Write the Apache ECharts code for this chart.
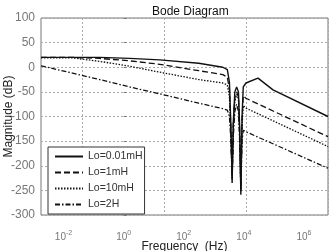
<!DOCTYPE html>
<html>
<head>
<meta charset="utf-8">
<script src="https://cdn.jsdelivr.net/npm/echarts@6/dist/echarts.min.js"></script>
<style>
  html, body { margin: 0; padding: 0; background: #fff; }
  #main { width: 330px; height: 251px; }
</style>
</head>
<body>
<div id="main"></div>
<script>
// x values are log10(frequency in Hz)
var seriesNames = ['Lo=0.01mH', 'Lo=1mH', 'Lo=10mH', 'Lo=2H'];

var logFreqA = [-2.75, -0.8, 0.2, 1.2, 2.5, 3.3, 3.45, 3.52, 3.57, 3.61, 3.65, 3.7, 3.76, 3.82, 3.86, 3.9, 3.94, 3.98, 4.07, 4.47, 4.97, 6.8];
var magA     = [20, 20, 18, 15, 8, 0, -5, -30, -120, -235, -110, -50, -40, -50, -120, -259, -100, -40, -32, -22, -46, -100];

var logFreqB = [-2.75, -1.7, -0.8, 0.2, 1.2, 2.5, 3.3, 3.45, 3.52, 3.57, 3.61, 3.65, 3.7, 3.76, 3.82, 3.86, 3.9, 3.94, 3.98, 4.07, 6.8];
var magB     = [20, 20, 18, 13, 6, -7, -15, -20, -45, -130, -228, -115, -60, -50, -60, -130, -252, -110, -58, -63, -141];
var magC     = [19, 19, 12, 2, -10, -25, -32, -36, -60, -140, -222, -120, -70, -55, -65, -140, -248, -120, -78, -83, -161];
var magD     = [3, -12, -25, -40, -54, -73, -84, -87, -100, -150, -225, -140, -90, -75, -90, -150, -245, -150, -128, -131, -205];

var xTicks = [-2, 0, 2, 4, 6];

function zip(xs, ys) {
    return xs.map(function (x, i) { return [x, ys[i]]; });
}

var lineData = [zip(logFreqA, magA), zip(logFreqB, magB), zip(logFreqB, magC), zip(logFreqB, magD)];
var dashes = ['solid', [6, 3], [1.5, 1.5], [5, 2, 1.5, 2]];
var widths = [1.4, 1.3, 1.3, 1.3];

var font = 'Liberation Sans, Arial, sans-serif';

var myChart = echarts.init(document.getElementById('main'));

var option = {
    animation: false,
    backgroundColor: '#fff',
    textStyle: { fontFamily: font },
    title: {
        text: 'Bode Diagram',
        left: 147,
        top: 1,
        textStyle: { fontSize: 12, fontWeight: 'normal', color: '#111', fontFamily: font }
    },
    grid: {
        left: 41, top: 18, right: 2, bottom: 36,
        containLabel: false,
        outerBoundsMode: 'none',
        show: true,
        borderColor: '#777',
        borderWidth: 1,
        backgroundColor: '#fff'
    },
    legend: {
        orient: 'vertical',
        left: 48,
        top: 147,
        data: seriesNames,
        backgroundColor: '#fff',
        borderColor: '#333',
        borderWidth: 1,
        borderRadius: 0,
        padding: [4, 2, 4, 6],
        itemWidth: 28,
        itemHeight: 8,
        itemGap: 5,
        itemStyle: { opacity: 0 },
        textStyle: { fontSize: 10.5, color: '#333', fontFamily: font }
    },
    xAxis: [{
        type: 'value',
        min: -2.75,
        max: 6.8,
        name: 'Frequency  (Hz)',
        nameLocation: 'middle',
        nameGap: 26,
        nameMoveOverlap: false,
        nameTextStyle: { fontSize: 12, color: '#222', fontFamily: font },
        axisLine: { show: false },
        axisTick: { show: false },
        splitLine: { show: false },
        axisLabel: {
            customValues: xTicks,
            margin: 15,
            formatter: function (v) {
                return '{b|10}{s|' + v + '}';
            },
            rich: {
                b: { fontSize: 10, color: '#777', fontFamily: font },
                s: { fontSize: 7, color: '#777', fontFamily: font, padding: [0, 0, 7, 0] }
            }
        }
    }, {
        // only used for the vertical grid lines of the original figure
        type: 'value',
        position: 'top',
        min: 0,
        max: 7,
        interval: 1,
        axisLine: { show: false },
        axisTick: { show: false },
        axisLabel: { show: false },
        splitLine: {
            show: true,
            lineStyle: { color: ['rgba(0,0,0,0)', '#aaa'], type: [2, 2], width: 1 }
        }
    }],
    yAxis: {
        type: 'value',
        min: -300,
        max: 100,
        interval: 50,
        name: 'Magnitude (dB)',
        nameLocation: 'middle',
        nameRotate: 90,
        nameGap: 26,
        nameMoveOverlap: false,
        nameTextStyle: { fontSize: 12, color: '#222', fontFamily: font },
        axisLine: { show: false },
        axisTick: { show: true, inside: true, length: 3, lineStyle: { color: '#777' } },
        axisLabel: { fontSize: 12, color: '#777', margin: 6, fontFamily: font },
        splitLine: { show: true, lineStyle: { color: '#aaa', type: [2, 2], width: 1 } }
    },
    series: seriesNames.map(function (name, i) {
        return {
            name: name,
            type: 'line',
            xAxisIndex: 0,
            symbol: 'none',
            data: lineData[i],
            lineStyle: { color: '#111', width: widths[i], type: dashes[i] },
            itemStyle: { color: '#111' }
        };
    })
};

myChart.setOption(option);
</script>
</body>
</html>
